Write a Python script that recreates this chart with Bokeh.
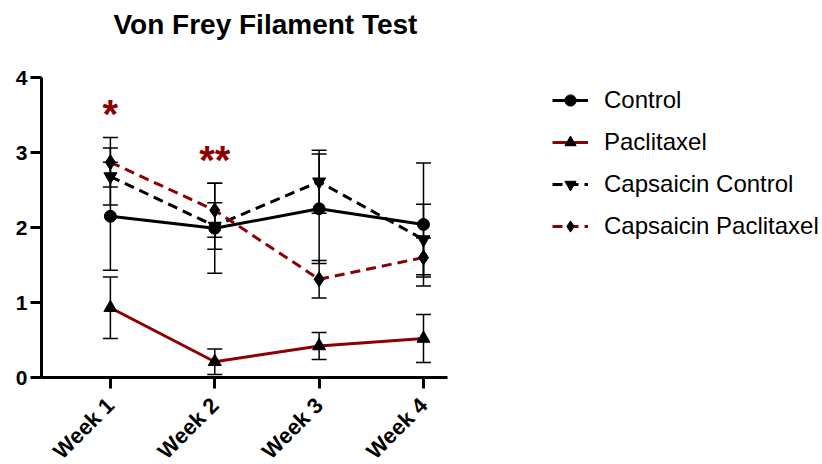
import math

from bokeh.core.properties import value
from bokeh.embed import file_html
from bokeh.models import (ColumnDataSource, FixedTicker, Legend, LegendItem,
                          Range1d, TeeHead, Title, Whisker)
from bokeh.plotting import figure
from bokeh.resources import INLINE

# Weekly mean withdrawal thresholds with their error bars
weeks = ["Week 1", "Week 2", "Week 3", "Week 4"]
week_pos = [1, 2, 3, 4]

control_mean = [2.15, 1.99, 2.25, 2.04]
control_err = [0.72, 0.60, 0.73, 0.82]

paclitaxel_mean = [0.93, 0.21, 0.42, 0.52]
paclitaxel_err = [0.41, 0.17, 0.18, 0.32]

caps_control_mean = [2.68, 2.02, 2.61, 1.84]
caps_control_err = [0.38, 0.31, 0.42, 0.47]

caps_paclitaxel_mean = [2.87, 2.23, 1.31, 1.60]
caps_paclitaxel_err = [0.33, 0.36, 0.25, 0.26]

# Significance marks above weeks 1 and 2
sig_pos = [1, 2]
sig_y = [3.51, 2.90]
sig_text = ["*", "**"]

FONT = "Liberation Sans"
DARK_RED = "#8B0000"

p = figure(frame_width=406, frame_height=300, output_backend="svg",
           toolbar_location=None, title=None,
           x_range=Range1d(0.34, 4.23), y_range=Range1d(0, 4),
           min_border_left=41, min_border_right=0,
           min_border_top=77, min_border_bottom=87)

# empty spacer line next to the frame, then the main heading above it
p.add_layout(Title(text=" ", text_font=FONT, text_font_size="22px",
                   standoff=11), "above")
p.add_layout(Title(text="Von Frey Filament Test", text_font=FONT,
                   text_font_size="28px", text_font_style="bold",
                   align="left", offset=72, standoff=0, text_color="black"),
             "above")

p.outline_line_color = None
p.xgrid.visible = False
p.ygrid.visible = False

for ax in (p.xaxis[0], p.yaxis[0]):
    ax.axis_line_width = 3
    ax.axis_line_color = "black"
    ax.major_tick_line_width = 3
    ax.major_tick_in = 0
    ax.major_tick_out = 11
    ax.minor_tick_line_color = None
    ax.major_label_text_font = FONT
    ax.major_label_text_font_style = "bold"
    ax.major_label_text_color = "black"

p.yaxis.ticker = FixedTicker(ticks=[0, 1, 2, 3, 4])
p.yaxis.major_label_text_font_size = "21px"
p.yaxis.major_label_standoff = 3

p.xaxis.ticker = FixedTicker(ticks=week_pos)
p.xaxis.major_label_overrides = {k: w for k, w in zip(week_pos, weeks)}
p.xaxis.major_label_orientation = math.pi / 4
p.xaxis.major_label_text_font_size = "22px"
p.xaxis.major_label_standoff = 13

series = [
    ("Control", control_mean, control_err, "black", "solid", "circle", 12),
    ("Paclitaxel", paclitaxel_mean, paclitaxel_err, DARK_RED, "solid", "triangle", 13),
    ("Capsaicin Control", caps_control_mean, caps_control_err, "black", "10 6",
     "inverted_triangle", 13),
    ("Capsaicin Paclitaxel", caps_paclitaxel_mean, caps_paclitaxel_err, DARK_RED,
     "10 6", "diamond", 15),
]

items = []
for name, mean, err, color, dash, marker, size in series:
    src = ColumnDataSource(dict(
        x=week_pos, y=mean,
        upper=[m + e for m, e in zip(mean, err)],
        lower=[m - e for m, e in zip(mean, err)],
    ))
    whisker = Whisker(source=src, base="x", upper="upper", lower="lower",
                      line_color="black", line_width=1.5, level="underlay",
                      upper_head=TeeHead(size=15, line_width=1.5, line_color="black"),
                      lower_head=TeeHead(size=15, line_width=1.5, line_color="black"))
    p.add_layout(whisker)
    ln = p.line("x", "y", source=src, line_color=color, line_width=3,
                line_dash=dash)
    sc = p.scatter("x", "y", source=src, marker=marker, size=size,
                   fill_color="black", line_color="black")
    items.append(LegendItem(label=name, renderers=[ln, sc]))

sig_src = ColumnDataSource(dict(x=sig_pos, y=sig_y, t=sig_text))
p.text("x", "y", text="t", source=sig_src, text_color=DARK_RED,
       text_font=value(FONT), text_font_style="bold", text_font_size="40px",
       text_align="center", text_baseline="middle")

legend = Legend(items=items, location=(105, 137), padding=0, margin=0,
                spacing=14, glyph_width=36, glyph_height=28, label_height=28,
                label_standoff=16, label_text_font=FONT,
                label_text_font_size="24px", label_text_color="black",
                background_fill_alpha=0, border_line_color=None)
p.add_layout(legend, "right")

open("out.html", "w").write(file_html(p, INLINE))
